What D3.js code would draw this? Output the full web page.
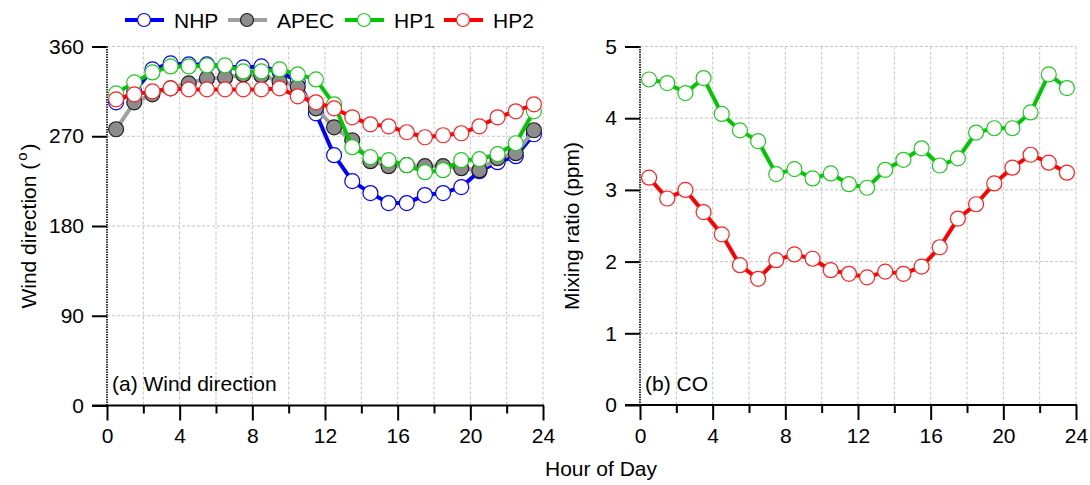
<!DOCTYPE html>
<html>
<head>
<meta charset="utf-8">
<script src="https://cdn.jsdelivr.net/npm/d3@7/dist/d3.min.js"></script>
<style>
  html, body { margin: 0; padding: 0; background: #fff; }
  svg { display: block; font-family: "Liberation Sans", Arial, sans-serif; }
</style>
</head>
<body>
<svg id="chart" width="1090" height="485"></svg>
<script>
// Hourly means (hour of day, centred on the half hour)
const hours = [0.5,1.5,2.5,3.5,4.5,5.5,6.5,7.5,8.5,9.5,10.5,11.5,12.5,13.5,14.5,15.5,16.5,17.5,18.5,19.5,20.5,21.5,22.5,23.5];

// Wind direction (degrees)
const wdNHP  = [304,315,337,343,342,342,340,339,340,335,325,293,251,225,213,203,203,211,213,219,235,244,250,272];
const wdAPEC = [277,304,312,318,323,328,329,332,331,325,320,298,279,266,245,240,241,240,240,238,236,248,253,276];
const wdHP1  = [313,324,334,340,340,341,341,335,335,337,332,327,302,259,249,246,241,234,236,246,247,252,263,295];
const wdHP2  = [307,312,315,318,317,317,317,317,317,318,310,304,298,289,282,280,274,269,271,273,280,289,295,302];

// CO mixing ratio (ppm)
const coHP1 = [4.54,4.49,4.35,4.56,4.06,3.83,3.68,3.22,3.29,3.16,3.23,3.08,3.03,3.28,3.42,3.58,3.34,3.44,3.80,3.86,3.86,4.08,4.61,4.42];
const coHP2 = [3.17,2.88,3.00,2.69,2.38,1.95,1.76,2.02,2.10,2.04,1.88,1.83,1.78,1.86,1.83,1.93,2.20,2.60,2.80,3.09,3.31,3.49,3.38,3.24];

const seriesNames = ["NHP", "APEC", "HP1", "HP2"];
const xTicksMajor = [0,4,8,12,16,20,24];
const xTicksMinor = [2,6,10,14,18,22];
const wdTicks = [0,90,180,270,360];
const coTicks = [0,1,2,3,4,5];

const styles = {
  NHP:  { line: "#0000ff", stroke: "#0000ff", fill: "#ffffff" },
  APEC: { line: "#a0a0a0", stroke: "#202020", fill: "#8c8c8c" },
  HP1:  { line: "#00c800", stroke: "#22c822", fill: "#ffffff" },
  HP2:  { line: "#ff0000", stroke: "#ff2020", fill: "#ffffff" }
};

const svg = d3.select("#chart");
const FONT = 21;
const R = 7.5;

function panel(opts) {
  const x = d3.scaleLinear().domain([0, 24]).range([opts.x0, opts.x1]);
  const y = d3.scaleLinear().domain(opts.yDomain).range([opts.y0, opts.y1]);
  const g = svg.append("g");

  // dashed grid
  const grid = g.append("g").attr("stroke", "#c4c4c4").attr("stroke-width", 1)
    .attr("stroke-dasharray", "3,2").attr("fill", "none");
  xTicksMajor.concat(xTicksMinor).filter(d => d > 0).forEach(d => {
    grid.append("line").attr("x1", x(d)).attr("x2", x(d)).attr("y1", y(opts.yDomain[1])).attr("y2", y(0));
  });
  opts.yTicks.filter(d => d > 0).forEach(d => {
    grid.append("line").attr("x1", x(0)).attr("x2", x(24)).attr("y1", y(d)).attr("y2", y(d));
  });

  // y axis: outward ticks, dotted spine
  const yAxis = d3.axisLeft(y).tickValues(opts.yTicks).tickSize(15).tickPadding(8).tickFormat(d3.format("d"));
  const ya = g.append("g").attr("transform", `translate(${x(0)},0)`).call(yAxis);
  ya.select(".domain").remove();
  ya.selectAll(".tick line").attr("stroke", "#000").attr("stroke-width", 2);
  ya.selectAll(".tick text").attr("font-size", FONT).attr("fill", "#000")
    .attr("font-family", "Liberation Sans, Arial, sans-serif");
  g.append("line").attr("x1", x(0)).attr("x2", x(0)).attr("y1", y(opts.yDomain[1])).attr("y2", y(0))
    .attr("stroke", "#333").attr("stroke-width", 2).attr("stroke-dasharray", "1.5,1");

  // x axis
  const xAxis = d3.axisBottom(x).tickValues(xTicksMajor).tickSize(15).tickPadding(8).tickFormat(d3.format("d"));
  const xa = g.append("g").attr("transform", `translate(0,${y(0)})`).call(xAxis);
  xa.select(".domain").remove();
  xa.selectAll(".tick line").attr("stroke", "#000").attr("stroke-width", 2);
  xa.selectAll(".tick text").attr("font-size", FONT).attr("fill", "#000")
    .attr("font-family", "Liberation Sans, Arial, sans-serif");
  const xm = d3.axisBottom(x).tickValues(xTicksMinor).tickSize(8).tickFormat("");
  const xma = g.append("g").attr("transform", `translate(0,${y(0)})`).call(xm);
  xma.select(".domain").remove();
  xma.selectAll(".tick line").attr("stroke", "#000").attr("stroke-width", 2);
  g.append("line").attr("x1", x(0) - 15).attr("x2", x(24) + 1).attr("y1", y(0)).attr("y2", y(0))
    .attr("stroke", "#000").attr("stroke-width", 2);

  // series
  const line = d3.line().x((d, i) => x(hours[i])).y(d => y(d));
  opts.series.forEach(s => {
    const st = styles[s.name];
    const sg = g.append("g");
    sg.append("path").datum(s.values).attr("d", line).attr("fill", "none")
      .attr("stroke", st.line).attr("stroke-width", 4).attr("stroke-linejoin", "round");
    sg.selectAll("circle").data(s.values).join("circle")
      .attr("cx", (d, i) => x(hours[i])).attr("cy", d => y(d)).attr("r", R)
      .attr("fill", st.fill).attr("stroke", st.stroke).attr("stroke-width", 1.2);
  });

  // panel label
  g.append("text").attr("x", x(0) + 5).attr("y", 391).attr("font-size", 21).text(opts.label);

  return { x, y, g };
}

panel({
  x0: 107, x1: 543, y0: 405.5, y1: 46.5, yDomain: [0, 360], yTicks: wdTicks,
  label: "(a) Wind direction",
  series: [
    { name: "NHP", values: wdNHP },
    { name: "APEC", values: wdAPEC },
    { name: "HP1", values: wdHP1 },
    { name: "HP2", values: wdHP2 }
  ]
});

panel({
  x0: 640, x1: 1076, y0: 405, y1: 46.5, yDomain: [0, 5], yTicks: coTicks,
  label: "(b) CO",
  series: [
    { name: "HP1", values: coHP1 },
    { name: "HP2", values: coHP2 }
  ]
});

// axis titles
const t1 = svg.append("text").attr("transform", "translate(36,226) rotate(-90)")
  .attr("text-anchor", "middle").attr("font-size", 21);
t1.append("tspan").text("Wind direction (");
t1.append("tspan").attr("font-size", 15).attr("dx", 2).attr("dy", -9).text("o");
t1.append("tspan").attr("dx", 2).attr("dy", 9).text(")");

svg.append("text").attr("transform", "translate(579,226) rotate(-90)")
  .attr("text-anchor", "middle").attr("font-size", 21).text("Mixing ratio (ppm)");

svg.append("text").attr("x", 601).attr("y", 476).attr("text-anchor", "middle")
  .attr("font-size", 21).text("Hour of Day");

// legend
const legendX = [125, 228, 345, 444];
const leg = svg.append("g");
seriesNames.forEach((n, i) => {
  const st = styles[n];
  const lx = legendX[i];
  leg.append("line").attr("x1", lx).attr("x2", lx + 39).attr("y1", 20).attr("y2", 20)
    .attr("stroke", st.line).attr("stroke-width", 4);
  leg.append("circle").attr("cx", lx + 19).attr("cy", 20).attr("r", 6.5)
    .attr("fill", st.fill).attr("stroke", st.stroke).attr("stroke-width", 1.2);
  leg.append("text").attr("x", lx + 49).attr("y", 27.5).attr("font-size", 21).text(n);
});
</script>
</body>
</html>
